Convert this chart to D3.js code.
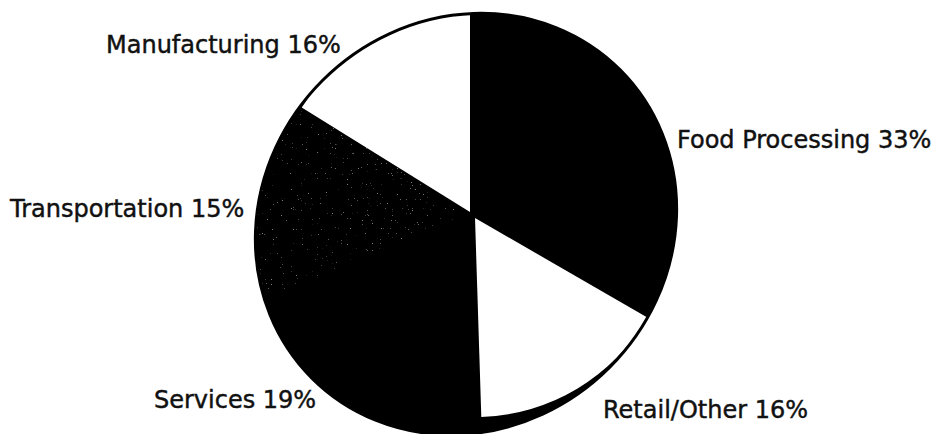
<!DOCTYPE html>
<html>
<head>
<meta charset="utf-8">
<script src="https://cdn.jsdelivr.net/npm/d3@7/dist/d3.min.js"></script>
<style>
  html, body { margin: 0; padding: 0; background: #fff; }
  svg { display: block; }
  .label { font-family: "DejaVu Sans", sans-serif; font-size: 24px; fill: #111; stroke: #111; stroke-width: 0.45px; }
</style>
</head>
<body>
<svg id="chart" width="940" height="434"></svg>
<script>
// Employment shares by sector
const categories = ["Food Processing", "Retail/Other", "Services", "Transportation", "Manufacturing"];
const shares = [33, 16, 19, 15, 16];

const W = 940, H = 434;
const svg = d3.select("#chart");

// Hub where the wedges meet, and the (slightly egg-shaped) outer disk
const hub = { x: 470, y: 212 };
const disk = { cx: 466, cy: 224, rx: 218, ry: 203, tilt: -45 };

// Per-slice drawing style
const sliceStyle = {
  "Food Processing": { fill: "#000", r: 280 },
  "Retail/Other":    { fill: "#fff", r: 199, dx: 5, dy: 6 },
  "Services":        { fill: "#000", r: 280 },
  "Transportation":  { fill: "#050505", r: 280, speck: true },
  "Manufacturing":   { fill: "#fff", r: 198 }
};

// Label placement: left edge and baseline
const labelPos = {
  "Food Processing": [677, 148],
  "Retail/Other":    [603, 418],
  "Services":        [154, 408],
  "Transportation":  [10, 217],
  "Manufacturing":   [106, 53]
};

const defs = svg.append("defs");
defs.append("clipPath").attr("id", "diskClip")
  .append("ellipse")
  .attr("cx", disk.cx).attr("cy", disk.cy).attr("rx", disk.rx).attr("ry", disk.ry)
  .attr("transform", `rotate(${disk.tilt},${disk.cx},${disk.cy})`);

// Sparse, faint grey speckle for the screened wedge
const f = defs.append("filter").attr("id", "speck")
  .attr("x", 0).attr("y", 0).attr("width", 1).attr("height", 1);
f.append("feTurbulence").attr("type", "fractalNoise").attr("baseFrequency", 0.8)
  .attr("numOctaves", 2).attr("seed", 11).attr("result", "n");
f.append("feColorMatrix").attr("in", "n").attr("type", "matrix")
  .attr("values", "0 0 0 0 0.22  0 0 0 0 0.22  0 0 0 0 0.22  10 0 0 0 -7.5")
  .attr("result", "dots");
f.append("feComposite").attr("in", "dots").attr("in2", "SourceGraphic").attr("operator", "atop");

const data = categories.map((c, i) => ({ category: c, share: shares[i] }));
const pie = d3.pie().sort(null).value(d => d.share);
const arcs = pie(data);

// Solid disk
svg.append("ellipse")
  .attr("cx", disk.cx).attr("cy", disk.cy).attr("rx", disk.rx).attr("ry", disk.ry)
  .attr("transform", `rotate(${disk.tilt},${disk.cx},${disk.cy})`)
  .attr("fill", "#000");

const sliceG = svg.append("g").attr("clip-path", "url(#diskClip)");
sliceG.selectAll("path.slice")
  .data(arcs)
  .join("path")
  .attr("class", "slice")
  .attr("transform", d => {
    const s = sliceStyle[d.data.category];
    return `translate(${hub.x + (s.dx || 0)},${hub.y + (s.dy || 0)})`;
  })
  .attr("d", d => d3.arc().innerRadius(0).outerRadius(sliceStyle[d.data.category].r)(d))
  .attr("fill", d => sliceStyle[d.data.category].fill)
  .attr("filter", d => sliceStyle[d.data.category].speck ? "url(#speck)" : null);

// Outline of the disk
svg.append("ellipse")
  .attr("cx", disk.cx).attr("cy", disk.cy).attr("rx", disk.rx).attr("ry", disk.ry)
  .attr("transform", `rotate(${disk.tilt},${disk.cx},${disk.cy})`)
  .attr("fill", "none").attr("stroke", "#000").attr("stroke-width", 3);

// Category labels
svg.selectAll("text.label")
  .data(arcs)
  .join("text")
  .attr("class", "label")
  .attr("x", d => labelPos[d.data.category][0])
  .attr("y", d => labelPos[d.data.category][1])
  .text(d => `${d.data.category} ${d.data.share}%`);
</script>
</body>
</html>
